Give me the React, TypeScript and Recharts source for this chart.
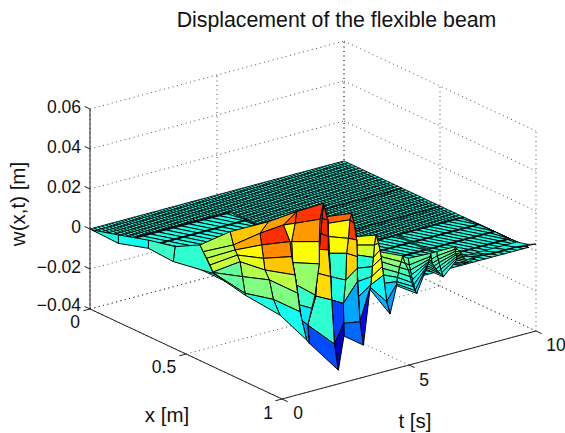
import React from 'react';
import { ScatterChart, Scatter, XAxis, YAxis } from 'recharts';

// mesh values: t per column, x and w (mm) per column and row
const cornerX = [0, 0.02, 0.04, 0.06, 0.08, 0.1, 0.12, 0.14];
const cornerT = [0, 0.15, 0.3, 0.45, 0.6];
const farX = [0, 0.02, 0.04, 0.06, 0.08, 0.1, 0.12, 0.14, 0.16, 0.18, 0.2, 0.22, 0.24, 0.26, 0.28, 0.3, 0.305, 0.32, 0.34, 0.36, 0.38, 0.4, 0.42, 0.44, 0.46, 0.48, 0.5, 0.505, 0.52, 0.54, 0.56, 0.58, 0.6, 0.62];
const farT = [0.6, 0.725, 0.85, 0.975, 1.1, 1.225, 1.35, 1.475, 1.6, 1.725, 1.85, 1.975, 2.1, 2.225, 2.35, 2.475, 2.6, 2.725, 2.85, 2.975, 3.1, 3.225, 3.35, 3.475, 3.6, 3.725, 3.85, 3.975, 4.1, 4.225, 4.35, 4.475, 4.6, 4.725, 4.85, 4.975, 5.1, 5.225, 5.35, 5.475, 5.6, 5.725, 5.85, 5.975, 6.1, 6.225, 6.35, 6.475, 6.6, 6.725, 6.85, 6.975, 7.1, 7.225, 7.35, 7.475, 7.6, 7.725, 7.85, 7.975, 8.1, 8.225, 8.35, 8.475, 8.6, 8.725, 8.85, 8.975, 9.1, 9.225, 9.35, 9.475, 9.6, 9.725, 9.85, 10];
// striped sheets: sparse x lines, t lines leaning with x
const midX = [0.62, 0.625, 0.7, 0.705, 0.78, 0.785, 0.86, 0.865, 0.96];
const midT = [-0.9, -0.65, -0.4, -0.15, 0.1, 0.35, 0.6, 0.85, 1.1, 1.35, 1.6, 1.85, 2.1, 2.35, 2.6, 2.85, 3.1, 3.35, 3.6, 3.85, 4.1, 4.35, 4.6, 4.85, 5.1, 5.35, 5.6, 5.85, 6.1, 6.35, 6.6, 6.85, 7.1, 7.35, 7.6, 7.85, 8.1, 8.35, 8.6, 8.85, 9.1, 9.35, 9.6, 9.85, 10];
const midLean = 4.3;
const patchX = [0.14, 0.145, 0.15, 0.23, 0.235, 0.32, 0.325, 0.42];
const patchT = [-0.6, -0.3, 0, 0.3, 0.6, 0.9, 1.2, 1.5, 1.8, 2.1, 2.4, 2.7, 3, 3.3, 3.6, 3.9, 4.2, 4.4];
const tLow = 0.6;
const tHigh = 10;
const patchHigh = 4.4;
const bandX = [0.62, 0.96];
const bandT = [7.3, 7.35, 7.4];
const stripX = [0.9, 0.96, 1];
const stripT = [7.3, 7.6, 7.9, 8.15, 8.4, 8.7, 9.1, 9.5, 10];
const stripW = [[0, 1.5, 3.5], [0, 2, 4.6], [0, 2.5, 5.6], [0, 2.2, 5], [0, 2, 4.5], [0, 2, 4.4], [0, 2, 4.6], [0, 1.8, 4], [0, 1.5, 3.5]];

const leftT = [0, 0.05, 0.1, 0.12, 0.15];
const leftX = [[0.009, 0.009], [0.141, 0.141], [0.291, 0.291], [0.418, 0.427], [0.623, 0.553]];
const leftW = [[0, 0], [-1, 3.2], [3.1, 7.2], [2.1, 10], [5.3, 16.4]];

const humpT = [0.15, 0.3, 0.5, 0.85, 0.9, 1.55, 1.6, 2.2, 2.25, 2.5, 3.2, 3.5, 4, 4.25, 4.3, 4.9, 5.3, 5.35, 6.2, 6.35, 6.4, 6.9, 7.3];
const humpX = [
  [0.623, 0.623, 0.622, 0.621, 0.605, 0.588, 0.57, 0.553],
  [0.768, 0.768, 0.754, 0.742, 0.728, 0.716, 0.707, 0.69],
  [0.923, 0.889, 0.868, 0.845, 0.837, 0.828, 0.819, 0.863],
  [1.016, 0.981, 0.969, 0.955, 0.938, 0.929, 0.895, 0.964],
  [1.009, 0.983, 0.971, 0.957, 0.937, 0.931, 0.949, 0.957],
  [0.937, 0.929, 0.95, 0.967, 0.989, 0.989, 0.993, 1.01],
  [0.931, 0.922, 0.964, 0.972, 0.983, 0.99, 0.997, 1.004],
  [1.002, 0.982, 0.968, 0.962, 0.95, 0.95, 0.947, 0.924],
  [0.996, 0.975, 0.961, 0.956, 0.949, 0.945, 0.944, 0.938],
  [0.992, 0.991, 0.989, 1.001, 1.006, 1.015, 1.023, 1.032],
  [1, 0.983, 0.969, 0.969, 0.969, 0.966, 0.952, 0.94],
  [0.961, 0.943, 0.936, 0.931, 0.929, 0.926, 0.921, 0.917],
  [0.929, 0.931, 0.933, 0.938, 0.941, 0.947, 0.952, 0.96],
  [1, 0.983, 0.966, 0.96, 0.955, 0.948, 0.94, 0.927],
  [0.994, 0.976, 0.962, 0.957, 0.952, 0.949, 0.945, 0.942],
  [0.949, 0.949, 0.949, 0.953, 0.958, 0.963, 0.972, 0.98],
  [1, 0.992, 0.983, 0.974, 0.966, 0.957, 0.94, 0.927],
  [0.994, 0.985, 0.978, 0.971, 0.966, 0.961, 0.955, 0.95],
  [0.93, 0.933, 0.937, 0.94, 0.944, 0.947, 0.951, 0.954],
  [1, 0.986, 0.974, 0.962, 0.952, 0.943, 0.938, 0.934],
  [0.994, 0.985, 0.98, 0.976, 0.971, 0.968, 0.962, 0.959],
  [0.997, 0.997, 0.997, 0.993, 0.992, 0.99, 0.988, 0.987],
  [1.005, 0.996, 0.987, 0.979, 0.97, 0.961, 0.947, 0.934],
];
const humpW = [
  [5.3, 5.5, 5.7, 5.9, 8.7, 11.3, 13.8, 16.4],
  [0.5, 1.4, 9.1, 16, 18.7, 20.7, 22.8, 28.7],
  [-3.2, 3.1, 11.9, 15.8, 21.3, 27.6, 33, 40.8],
  [-12.7, -0.1, 8.6, 17.1, 25.5, 32.6, 39.4, 49.2],
  [-13.1, -4.3, 2.7, 12, 22.3, 32.5, 42.5, 48.7],
  [-20.3, -11.5, -2.2, 5.2, 21.8, 32.9, 44.3, 53],
  [-20.7, -12, 4.4, 16.2, 28.6, 36.9, 44.7, 52.6],
  [-32.9, -20.8, 0.6, 12, 24.8, 31.5, 39.6, 47],
  [-33.4, -21.3, 0.1, 11.5, 22.9, 31.1, 37.7, 40.8],
  [-17.4, -11.1, -1.2, 11, 24.6, 32.5, 42.1, 45.8],
  [-23.9, -13, 6.4, 13.1, 18.9, 27.1, 34.8, 39.2],
  [-26.7, -15.8, -3.6, 3.7, 10.3, 16.8, 21.5, 25.5],
  [-2, -0.9, 0.4, 4.8, 9.9, 14.8, 21.2, 26.6],
  [-11.9, -6.6, 6, 9.9, 13.9, 17.7, 20.7, 24.3],
  [-12.4, -7, 1.5, 5.5, 8.6, 11.7, 14.1, 16.4],
  [-2.3, -1.5, -0.3, 2, 4.6, 7.5, 10.7, 14],
  [-5.2, -4.2, -2.6, -1, 1.6, 4.5, 7.1, 10.2],
  [-5.7, -4.7, -2.2, 0, 2.3, 4.5, 6.8, 9.9],
  [0.6, 1.6, 2.7, 3.9, 5.1, 6.4, 7.9, 9.7],
  [-0.4, 0.3, 0.9, 1.7, 2.6, 3.7, 5.4, 8.3],
  [-0.9, 0.7, 2.2, 3.7, 5.1, 6.6, 8.1, 10.1],
  [5.9, 6.7, 7.6, 8.3, 9, 9.9, 10.8, 12.1],
  [3.6, 4.2, 4.8, 5.4, 6, 6.9, 7.7, 8.4],
];
// face colour data where it differs from the height, as [column, row, mm]
const humpFace: [number, number, number][] = [
  [0, 0, 7], [0, 1, 7], [0, 2, 7], [0, 3, 17], [0, 4, 17], [0, 5, 15], [0, 6, 15],
  [1, 1, 10], [1, 2, 15], [1, 3, 20], [1, 4, 23], [1, 5, 31], [1, 6, 28],
  [2, 0, -1], [2, 1, 10], [2, 2, 16], [2, 3, 28], [2, 4, 34], [2, 5, 43], [2, 6, 32],
  [3, 5, 22],
  [6, 0, -20], [6, 1, 2], [6, 2, 26], [6, 3, 26], [6, 4, 44], [6, 5, 44], [6, 6, 44],
  [8, 5, 23], [8, 3, 2],
  [9, 5, 42], [9, 4, 27], [9, 3, 27], [9, 2, 7],
  [11, 5, 18], [11, 4, 1], [11, 3, 1], [11, 2, -3], [11, 1, -9],
  [12, 6, 25], [12, 5, 22], [12, 4, 22], [12, 3, 22], [12, 2, 22], [12, 1, -2], [12, 0, -10],
];

const zTicks = [0.06, 0.04, 0.02, 0, -0.02, -0.04];
const zTickLabels = ['0.06', '0.04', '0.02', '0', '\u22120.02', '\u22120.04'];
const xTicks = [0, 0.5, 1];
const xTickLabels = ['0', '0.5', '1'];
const tTicks = [0, 5, 10];
const tTickLabels = ['0', '5', '10'];
const zBottom = -0.04;
const zTop = 0.06;

// oblique view of the box, gives the chart's plane coordinates
const project = (x: number, t: number, w: number) => ({
  sx: 90 + 192 * x + 25.4 * t,
  sy: 309 + 90 * x - 6.8 * t - (w - zBottom) * 2000,
});

const jet = (c: number) => {
  const ch = (v: number) => Math.round(255 * Math.max(0, Math.min(1, v)));
  const r = Math.min(4 * c - 1.5, -4 * c + 4.5);
  const g = Math.min(4 * c - 0.5, -4 * c + 3.5);
  const b = Math.min(4 * c + 0.5, -4 * c + 2.5);
  return `rgb(${ch(r)},${ch(g)},${ch(b)})`;
};
const colorOf = (w: number) => jet((w - zBottom) / (zTop - zBottom));

// painted far to near: last column first, last row first. A column's t may be one value or one per row
const buildMesh = (ts: (number | number[])[], xs: number[][], ws: number[][], face: [number, number, number][] = []) => {
  const points: { sx: number; sy: number }[] = [];
  const fills: string[] = [];
  const tAt = (col: number, row: number) => {
    const v = ts[col];
    return Array.isArray(v) ? v[row] : v;
  };
  for (let j = ts.length - 2; j >= 0; j--) {
    for (let i = xs[j].length - 2; i >= 0; i--) {
      [[i, j], [i, j + 1], [i + 1, j + 1], [i + 1, j]].forEach(([a, b]) => {
        points.push(project(xs[b][a], tAt(b, a), ws[b][a] / 1000));
      });
      const over = face.find((f) => f[0] === j && f[1] === i);
      fills.push(colorOf((over ? over[2] : ws[j][i]) / 1000));
    }
  }
  return { points, fills };
};

const flatMesh = (ts: (number | number[])[], rows: number[]) =>
  buildMesh(ts, ts.map(() => rows), ts.map(() => rows.map(() => 0)));

const leaning = (starts: number[], rows: number[], high: number) =>
  starts.map((t0) => rows.map((x) => Math.max(tLow, Math.min(high, t0 + midLean * (x - rows[0])))));

const corner = flatMesh(cornerT, cornerX);
const far = flatMesh(farT, farX);
const patch = flatMesh(leaning(patchT, patchX, patchHigh), patchX);
const mid = flatMesh(leaning(midT, midX, tHigh), midX);
const band = flatMesh(bandT, bandX);
const strip = buildMesh(stripT, stripT.map(() => stripX), stripW);
const left = buildMesh(leftT, leftX, leftW);
const hump = buildMesh(humpT, humpX, humpW, humpFace);

const quads = (fills: string[], width: number) => (props: any) => {
  const pts = props.points;
  return (
    <g>
      {fills.map((fill, k) => (
        <polygon
          key={k}
          points={[0, 1, 2, 3].map((n) => `${pts[k * 4 + n].x},${pts[k * 4 + n].y}`).join(' ')}
          fill={fill}
          stroke="#000"
          strokeWidth={width}
          strokeLinejoin="round"
        />
      ))}
    </g>
  );
};

const segs = (stroke: string, width: number, dash?: string) => (props: any) => {
  const pts = props.points;
  const out = [];
  for (let k = 0; k + 1 < pts.length; k += 2) {
    out.push(
      <line key={k} x1={pts[k].x} y1={pts[k].y} x2={pts[k + 1].x} y2={pts[k + 1].y}
        stroke={stroke} strokeWidth={width} strokeDasharray={dash} />
    );
  }
  return <g>{out}</g>;
};

const gridPoints: { sx: number; sy: number }[] = [];
const addGrid = (a: [number, number, number], b: [number, number, number]) => {
  gridPoints.push(project(a[0], a[1], a[2]), project(b[0], b[1], b[2]));
};
zTicks.forEach((z) => {
  addGrid([0, 0, z], [0, 10, z]);
  addGrid([0, 10, z], [1, 10, z]);
});
xTicks.forEach((x) => {
  addGrid([x, 0, zBottom], [x, 10, zBottom]);
  addGrid([x, 10, zBottom], [x, 10, zTop]);
});
tTicks.forEach((t) => {
  addGrid([0, t, zBottom], [1, t, zBottom]);
  addGrid([0, t, zBottom], [0, t, zTop]);
});

const axisPoints: { sx: number; sy: number }[] = [];
const addAxis = (a: [number, number, number], b: [number, number, number]) => {
  axisPoints.push(project(a[0], a[1], a[2]), project(b[0], b[1], b[2]));
};
addAxis([0, 0, zBottom], [0, 0, zTop]);
addAxis([0, 0, zBottom], [1, 0, zBottom]);
addAxis([1, 0, zBottom], [1, 10, zBottom]);
zTicks.forEach((z) => addAxis([0, 0, z], [-0.028, 0, z]));
xTicks.forEach((x) => addAxis([x, 0, zBottom], [x, -0.26, zBottom]));
tTicks.forEach((t) => addAxis([1, t, zBottom], [1.03, t, zBottom]));

type Label = { sx: number; sy: number; text: string; anchor: string; size: number; rotate?: number };
const nudge = (p: { sx: number; sy: number }, dx: number, dy: number) => ({ sx: p.sx + dx, sy: p.sy + dy });
const labels: Label[] = [
  { sx: 336.5, sy: 27, text: 'Displacement of the flexible beam', anchor: 'middle', size: 21.3 },
  { sx: 167, sy: 422, text: 'x [m]', anchor: 'middle', size: 20.5 },
  { sx: 415, sy: 428, text: 't [s]', anchor: 'middle', size: 20.5 },
  { sx: 25, sy: 204, text: 'w(x,t) [m]', anchor: 'middle', size: 20.5, rotate: -90 },
  ...zTicks.map((z, k) => ({ ...nudge(project(0, 0, z), -9, k === 5 ? 2 : 3.5), text: zTickLabels[k], anchor: 'end', size: 17.5 })),
  ...xTicks.map((x, k) => ({
    ...nudge(project(x, 0, zBottom), [-15, -22, -14][k], [19, 19, 20][k]),
    text: xTickLabels[k], anchor: 'middle', size: 17.5,
  })),
  ...tTicks.map((t, k) => ({
    ...nudge(project(1, t, zBottom), [16, 15, 20][k], [20, 21, 20][k]),
    text: tTickLabels[k], anchor: 'middle', size: 17.5,
  })),
];

const noDot = () => null;
const LabelText = (props: any) => {
  const { cx, cy, payload } = props;
  return (
    <text
      x={cx}
      y={cy}
      textAnchor={payload.anchor}
      fontSize={payload.size}
      fontFamily='"Liberation Sans", Arial, sans-serif'
      fill="#111"
      transform={payload.rotate ? `rotate(${payload.rotate} ${cx} ${cy})` : undefined}
    >
      {payload.text}
    </text>
  );
};

const App: React.FC = () => {
  return (
    <div style={{ position: 'absolute', left: 0, top: 0, width: 565, height: 433, background: '#fff' }}>
      <ScatterChart width={565} height={433} margin={{ top: 0, right: 0, bottom: 0, left: 0 }}>
        <XAxis type="number" dataKey="sx" domain={[0, 565]} hide />
        <YAxis type="number" dataKey="sy" domain={[0, 433]} reversed hide />
        <Scatter data={gridPoints} isAnimationActive={false} shape={noDot} line={segs('#222', 0.8, '1 3.5')} />
        <Scatter data={axisPoints} isAnimationActive={false} shape={noDot} line={segs('#222', 1)} />
        <Scatter data={far.points} isAnimationActive={false} shape={noDot} line={quads(far.fills, 0.85)} />
        <Scatter data={corner.points} isAnimationActive={false} shape={noDot} line={quads(corner.fills, 0.85)} />
        <Scatter data={patch.points} isAnimationActive={false} shape={noDot} line={quads(patch.fills, 0.95)} />
        <Scatter data={mid.points} isAnimationActive={false} shape={noDot} line={quads(mid.fills, 0.95)} />
        <Scatter data={band.points} isAnimationActive={false} shape={noDot} line={quads(band.fills, 0.7)} />
        <Scatter data={strip.points} isAnimationActive={false} shape={noDot} line={quads(strip.fills, 0.85)} />
        <Scatter data={left.points} isAnimationActive={false} shape={noDot} line={quads(left.fills, 1)} />
        <Scatter data={hump.points} isAnimationActive={false} shape={noDot} line={quads(hump.fills, 1)} />
        <Scatter data={labels} isAnimationActive={false} shape={LabelText} />
      </ScatterChart>
    </div>
  );
};

export default App;
